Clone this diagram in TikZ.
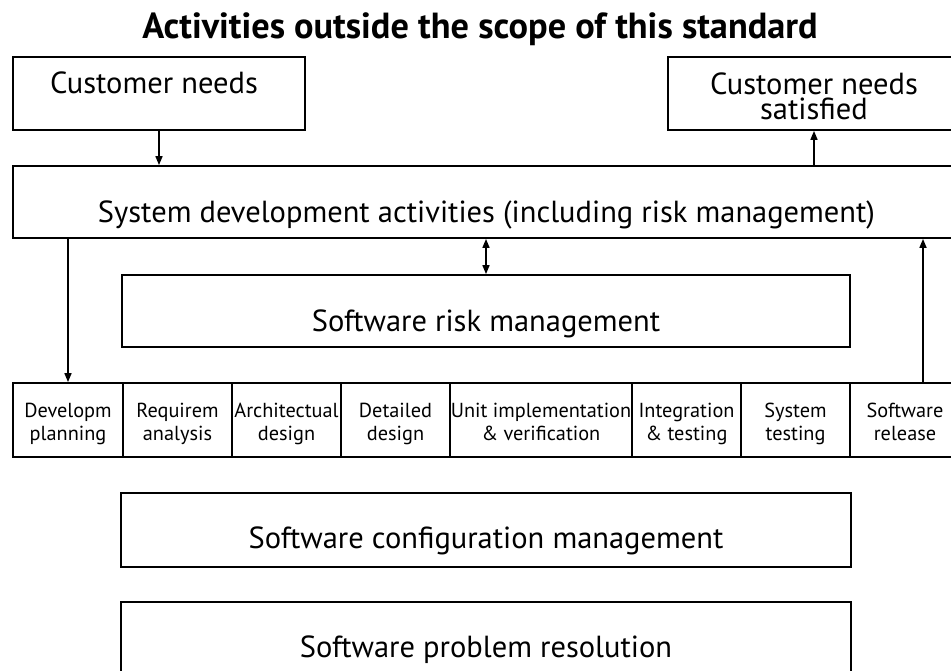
\documentclass[tikz,border=0pt]{standalone}
\usepackage{fontspec}
\setmainfont{PT Sans}
\usetikzlibrary{arrows.meta}
\begin{document}
\begin{tikzpicture}[x=1pt,y=-1pt,
  box/.style={draw,line width=1.8pt,inner sep=0pt,align=center,font=\fontsize{30.5}{22}\selectfont},
  cell/.style={draw,line width=1.8pt,inner sep=0pt,align=center,minimum height=74pt,text height=42pt,text depth=2pt,font=\fontsize{20.3}{23}\selectfont},
  arr/.style={line width=1.6pt,-{Triangle[length=9pt,width=7pt]}},
  darr/.style={line width=1.6pt,{Triangle[length=9pt,width=7pt]}-{Triangle[length=9pt,width=7pt]}},
  txt/.style={inner sep=0pt,font=\fontsize{30.5}{25}\selectfont,align=center}]
\useasboundingbox (0,0) rectangle (951,670);
\clip (0,0) rectangle (951,670);
\node[inner sep=0pt,anchor=base,font=\fontsize{36.3}{37}\selectfont\bfseries] (title) at (480,38) {Activities outside the scope of this standard};
% top boxes
\node[box,minimum width=292pt,minimum height=73pt] (cn) at (159,93.5) {};
\node[txt,anchor=base] (cnt) at (154,93) {Customer needs};
\node[box,minimum width=292pt,minimum height=73pt] (cns) at (814,93.5) {};
\node[txt,anchor=base] (cnst) at (814,119) {Customer needs\\satisfied};
\node[box,minimum width=947pt,minimum height=72pt,text height=40pt,text depth=0pt] (sd) at (486.5,202) {System development activities (including risk management)};
\node[box,minimum width=728pt,minimum height=72pt,text height=40pt,text depth=0pt] (srm) at (486,311) {Software risk management};
% activity row
\node[cell,minimum width=110pt] (c1) at (68,420) {Developm\\planning};
\node[cell,minimum width=109pt] (c2) at (177.5,420) {Requirem\\analysis};
\node[cell,minimum width=109pt] (c3) at (286.5,420) {Architectual\\design};
\node[cell,minimum width=109pt] (c4) at (395.5,420) {Detailed\\design};
\node[cell,minimum width=182pt] (c5) at (541,420) {Unit implementation\\\& verification};
\node[cell,minimum width=109pt] (c6) at (686.5,420) {Integration\\\& testing};
\node[cell,minimum width=109pt] (c7) at (795.5,420) {System\\testing};
\node[cell,minimum width=110pt] (c8) at (905,420) {Software\\release};
% bottom boxes
\node[box,minimum width=730pt,minimum height=74pt,text height=36pt,text depth=0pt] (scm) at (486,530) {Software configuration management};
\node[box,minimum width=730pt,minimum height=100pt,text height=20pt,text depth=10pt] (spr) at (486,652) {Software problem resolution};
% connectors
\draw[arr] (cn.south) -- (cn.south |- sd.north);
\draw[arr] (cns.south |- sd.north) -- (cns.south);
\draw[darr] (srm.north |- sd.south) -- (srm.north);
\draw[arr] (c1.north |- sd.south) -- (c1.north);
\draw[arr] ([xshift=18pt]c8.north) -- ([xshift=18pt]c8.north |- sd.south);
\end{tikzpicture}
\end{document}
